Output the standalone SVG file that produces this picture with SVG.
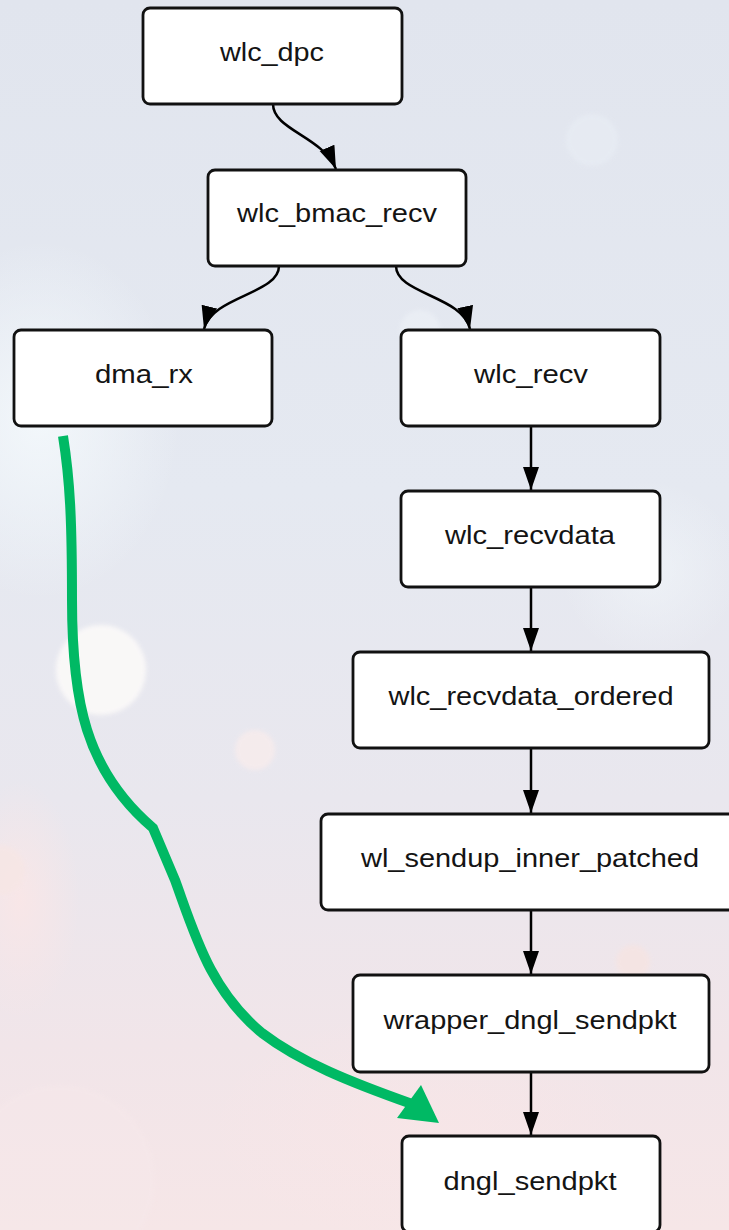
<svg xmlns="http://www.w3.org/2000/svg" width="729" height="1230" viewBox="0 0 729 1230">
  <defs>
    <linearGradient id="bg" x1="0" y1="0" x2="0" y2="1">
      <stop offset="0" stop-color="#e1e5ee"/>
      <stop offset="0.4" stop-color="#e5e9f1"/>
      <stop offset="0.65" stop-color="#e9e7ee"/>
      <stop offset="0.85" stop-color="#f1e5e9"/>
      <stop offset="1" stop-color="#f6e6e7"/>
    </linearGradient>
    <radialGradient id="glowL" cx="0.5" cy="0.5" r="0.5">
      <stop offset="0" stop-color="#f4f9fc" stop-opacity="0.9"/>
      <stop offset="1" stop-color="#f4f9fc" stop-opacity="0"/>
    </radialGradient>
    <radialGradient id="glowP" cx="0.5" cy="0.5" r="0.5">
      <stop offset="0" stop-color="#fbe6e6" stop-opacity="0.8"/>
      <stop offset="1" stop-color="#fbe6e6" stop-opacity="0"/>
    </radialGradient>
    <filter id="soft" x="-20%" y="-20%" width="140%" height="140%">
      <feGaussianBlur stdDeviation="2"/>
    </filter>
    <marker id="ah" markerUnits="userSpaceOnUse" markerWidth="26" markerHeight="18" refX="23" refY="8" orient="auto">
      <path d="M0,0 L23,8 L0,16 Z" fill="#000"/>
    </marker>
    <style>
      .box { fill: #ffffff; stroke: #111111; stroke-width: 2.8; }
      .lbl { font-family: "Liberation Sans", Arial, sans-serif; font-size: 26px; fill: #141414; text-anchor: middle; }
      .edge { fill: none; stroke: #000000; stroke-width: 2.5; marker-end: url(#ah); }
      .green { fill: none; stroke: #00b964; stroke-width: 10; stroke-linejoin: miter; }
    </style>
  </defs>

  <g id="background">
    <rect x="0" y="0" width="729" height="1230" fill="url(#bg)"/>
    <ellipse cx="40" cy="420" rx="140" ry="180" fill="url(#glowL)"/>
    <ellipse cx="20" cy="900" rx="60" ry="120" fill="url(#glowP)"/>
    <ellipse cx="420" cy="1130" rx="220" ry="120" fill="url(#glowP)" opacity="0.6"/>
    <ellipse cx="650" cy="570" rx="90" ry="90" fill="url(#glowL)" opacity="0.6"/>
    <circle cx="101" cy="670" r="45" fill="#fdfbf9" opacity="0.85" filter="url(#soft)"/>
    <circle cx="255" cy="750" r="20" fill="#f8ecec" opacity="0.8" filter="url(#soft)"/>
    <circle cx="592" cy="140" r="26" fill="#e8edf4" opacity="0.7" filter="url(#soft)"/>
    <circle cx="633" cy="962" r="17" fill="#f6e4e2" opacity="0.8" filter="url(#soft)"/>
    <circle cx="420" cy="330" r="20" fill="#eef2f7" opacity="0.6" filter="url(#soft)"/>
    <circle cx="60" cy="1180" r="95" fill="#f6e8ea" opacity="0.5" filter="url(#soft)"/>
    <circle cx="0" cy="870" r="25" fill="#f7e6e4" opacity="0.7" filter="url(#soft)"/>
  </g>

  <g id="connectors">
    <path class="edge" d="M273,104 C273,130 322,136 336,169"/>
    <path class="edge" d="M279,266 C279,294 212,296 204,329"/>
    <path class="edge" d="M396,266 C396,294 463,296 470,329"/>
    <path class="edge" d="M531,426 L531,490"/>
    <path class="edge" d="M531,587 L531,651"/>
    <path class="edge" d="M531,748 L531,813"/>
    <path class="edge" d="M531,910 L531,974"/>
    <path class="edge" d="M531,1072 L531,1135"/>
  </g>

  <g id="highlight">
    <path class="green" d="M63,436 C70,480 72,520 72,600 C72,700 85,770 153,828 L175,880 C195,935 210,990 262,1033 C300,1062 350,1082 412,1104"/>
    <polygon points="439,1123 397,1118 421,1085" fill="#00b964"/>
  </g>

  <g id="node-wlc_dpc">
    <rect class="box" x="143" y="8" width="259" height="96" rx="7"/>
    <text class="lbl" x="272" y="61" textLength="104" lengthAdjust="spacingAndGlyphs">wlc_dpc</text>
  </g>
  <g id="node-wlc_bmac_recv">
    <rect class="box" x="208" y="170" width="258" height="96" rx="7"/>
    <text class="lbl" x="337" y="222" textLength="200" lengthAdjust="spacingAndGlyphs">wlc_bmac_recv</text>
  </g>
  <g id="node-dma_rx">
    <rect class="box" x="14" y="330" width="258" height="96" rx="7"/>
    <text class="lbl" x="144" y="383" textLength="98" lengthAdjust="spacingAndGlyphs">dma_rx</text>
  </g>
  <g id="node-wlc_recv">
    <rect class="box" x="401" y="330" width="259" height="96" rx="7"/>
    <text class="lbl" x="531" y="383" textLength="114" lengthAdjust="spacingAndGlyphs">wlc_recv</text>
  </g>
  <g id="node-wlc_recvdata">
    <rect class="box" x="401" y="491" width="259" height="96" rx="7"/>
    <text class="lbl" x="530" y="544" textLength="170" lengthAdjust="spacingAndGlyphs">wlc_recvdata</text>
  </g>
  <g id="node-wlc_recvdata_ordered">
    <rect class="box" x="353" y="652" width="356" height="96" rx="7"/>
    <text class="lbl" x="531" y="705" textLength="285" lengthAdjust="spacingAndGlyphs">wlc_recvdata_ordered</text>
  </g>
  <g id="node-wl_sendup_inner_patched">
    <rect class="box" x="321" y="814" width="422" height="96" rx="7"/>
    <text class="lbl" x="530" y="867" textLength="338" lengthAdjust="spacingAndGlyphs">wl_sendup_inner_patched</text>
  </g>
  <g id="node-wrapper_dngl_sendpkt">
    <rect class="box" x="353" y="975" width="356" height="97" rx="7"/>
    <text class="lbl" x="530" y="1029" textLength="293" lengthAdjust="spacingAndGlyphs">wrapper_dngl_sendpkt</text>
  </g>
  <g id="node-dngl_sendpkt">
    <rect class="box" x="402" y="1136" width="258" height="96" rx="7"/>
    <text class="lbl" x="530" y="1190" textLength="173" lengthAdjust="spacingAndGlyphs">dngl_sendpkt</text>
  </g>
</svg>
